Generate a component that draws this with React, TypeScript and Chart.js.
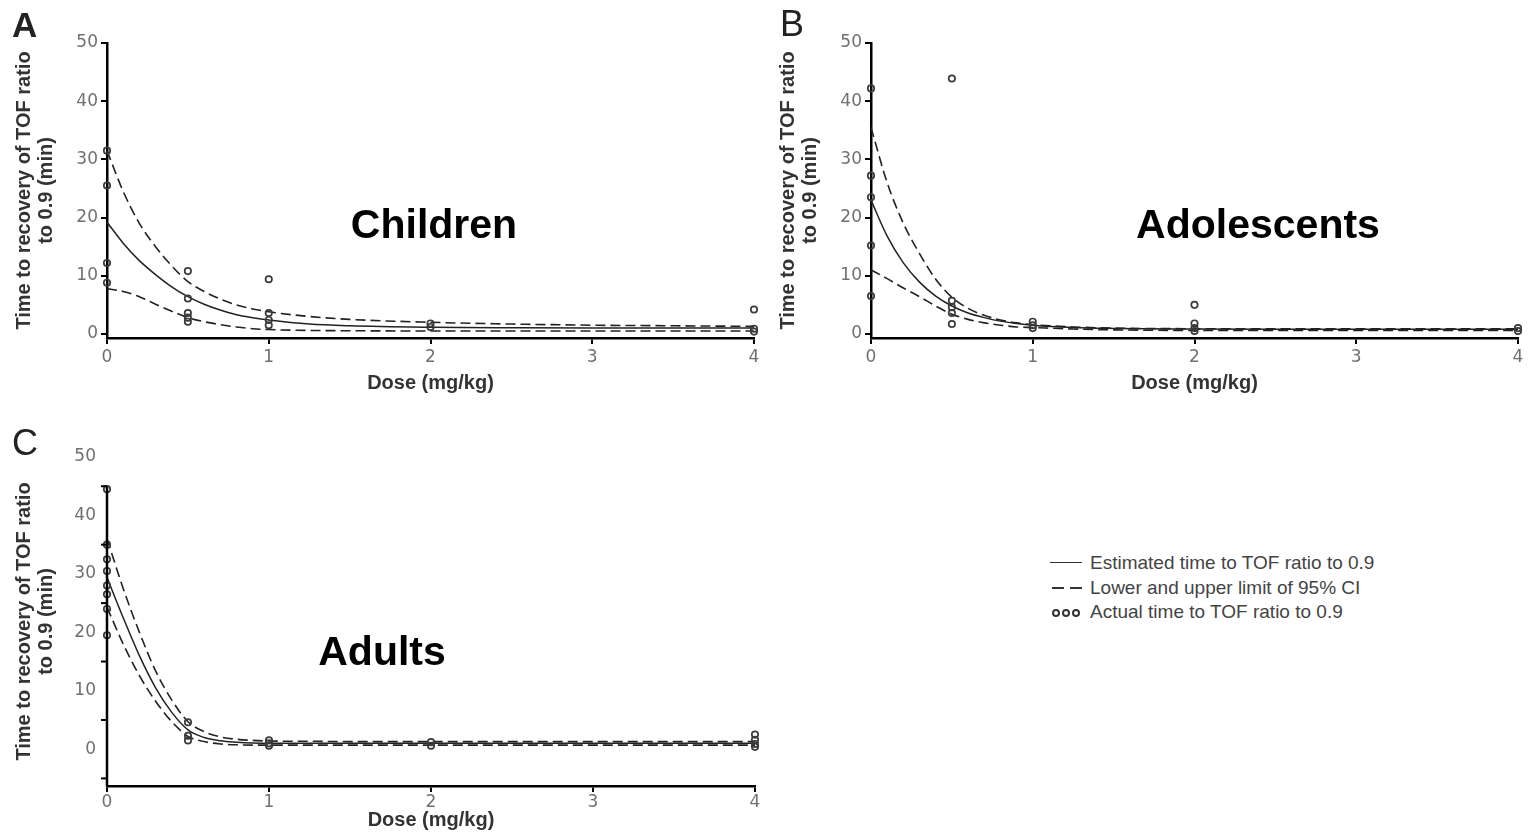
import React, { useEffect, useRef } from 'react';
import { Chart, registerables } from 'chart.js';

Chart.register(...registerables);

// ---------------- data ----------------
const doseGrid = [0, 0.1, 0.2, 0.3, 0.4, 0.5, 0.6, 0.7, 0.8, 0.9, 1, 1.25, 1.5, 2, 2.5, 3, 3.5, 4];
const xTickValues = [0, 1, 2, 3, 4];
const yTickValues = [0, 10, 20, 30, 40, 50];
const adultAxisMarks = [-5, 5, 15, 25, 35, 45];

// Children
const childrenEstimate = [19.2, 15.6, 12.6, 10.2, 8.1, 6.4, 5.1, 4.1, 3.3, 2.8, 2.4, 1.7, 1.4, 1.15, 1.05, 1.0, 1.0, 1.0];
const childrenUpper = [31.5, 24.5, 19.0, 15.0, 11.7, 9.0, 7.3, 6.0, 5.0, 4.3, 3.8, 3.0, 2.5, 2.0, 1.7, 1.5, 1.4, 1.3];
const childrenLower = [7.8, 7.3, 6.4, 5.1, 3.9, 2.8, 2.1, 1.6, 1.2, 0.9, 0.75, 0.6, 0.55, 0.5, 0.5, 0.5, 0.5, 0.5];
const childrenDose = [0, 0, 0, 0, 0.5, 0.5, 0.5, 0.5, 0.5, 1, 1, 1, 1, 2, 2, 4, 4, 4];
const childrenTime = [31.5, 25.5, 12.2, 8.8, 10.8, 6.1, 3.6, 2.8, 2.1, 9.4, 3.6, 2.4, 1.5, 1.8, 1.2, 4.2, 0.9, 0.4];

// Adolescents
const adolEstimate = [23.0, 16.8, 12.2, 8.9, 6.5, 4.8, 3.6, 2.8, 2.2, 1.8, 1.5, 1.1, 0.95, 0.85, 0.8, 0.8, 0.8, 0.8];
const adolUpper = [35.5, 26.0, 19.0, 13.8, 9.4, 6.3, 4.4, 3.2, 2.4, 1.9, 1.6, 1.2, 1.0, 0.9, 0.9, 0.9, 0.9, 0.9];
const adolLower = [11.0, 9.5, 7.9, 6.4, 4.8, 3.4, 2.5, 1.9, 1.5, 1.2, 1.1, 0.85, 0.7, 0.6, 0.6, 0.6, 0.6, 0.6];
const adolDose = [0, 0, 0, 0, 0, 0.5, 0.5, 0.5, 0.5, 0.5, 1, 1, 1, 2, 2, 2, 2, 4, 4];
const adolTime = [42.2, 27.2, 23.5, 15.2, 6.5, 43.9, 5.7, 4.6, 3.6, 1.7, 2.1, 1.5, 1.0, 5.0, 1.8, 1.0, 0.5, 1.0, 0.5];

// Adults
const adultEstimate = [29.4, 22.5, 16.0, 10.5, 6.3, 3.3, 2.0, 1.45, 1.2, 1.05, 1.0, 1.0, 1.0, 1.0, 1.0, 1.0, 1.0, 1.0];
const adultUpper = [36.0, 27.5, 20.0, 13.4, 8.4, 4.7, 3.0, 2.1, 1.7, 1.5, 1.4, 1.35, 1.3, 1.3, 1.3, 1.3, 1.3, 1.3];
const adultLower = [24.3, 18.0, 12.6, 8.2, 4.7, 2.2, 1.3, 0.9, 0.75, 0.7, 0.7, 0.7, 0.7, 0.7, 0.7, 0.7, 0.7, 0.7];
const adultDose = [0, 0, 0, 0, 0, 0, 0, 0, 0.5, 0.5, 0.5, 1, 1, 1, 2, 2, 4, 4, 4, 4];
const adultTime = [44.5, 35.0, 32.5, 30.5, 28.0, 26.5, 24.0, 19.5, 4.6, 2.3, 1.5, 1.5, 1.0, 0.6, 1.2, 0.6, 2.5, 1.6, 0.9, 0.4];

const legendLabels = [
  'Estimated time to TOF ratio to 0.9',
  'Lower and upper limit of 95% CI',
  'Actual time to TOF ratio to 0.9',
];

// ---------------- styling ----------------
const SANS = '"Liberation Sans", Arial, Helvetica, sans-serif';
const TICK_FONT = { family: '"DejaVu Sans", sans-serif', size: 17 };
const TICK_COLOR = '#707070';
const TITLE_COLOR = '#333';

const overlayPlugin = {
  id: 'overlayText',
  afterDraw(chart: any, _args: any, opts: any) {
    if (!opts || !opts.items) return;
    const ctx = chart.ctx;
    ctx.save();
    for (const it of opts.items) {
      ctx.font = it.font;
      ctx.fillStyle = it.color;
      ctx.textAlign = it.align || 'left';
      ctx.textBaseline = 'alphabetic';
      ctx.fillText(it.text, it.x, it.y);
    }
    ctx.restore();
  },
};

const customAxisPlugin = {
  id: 'customAxis',
  afterDatasetsDraw(chart: any, _args: any, opts: any) {
    if (!opts || !opts.marks) return;
    const ctx = chart.ctx;
    const ys = chart.scales.y;
    const area = chart.chartArea;
    ctx.save();
    ctx.strokeStyle = '#000';
    ctx.lineWidth = 2.5;
    ctx.beginPath();
    ctx.moveTo(area.left, ys.getPixelForValue(opts.top));
    ctx.lineTo(area.left, area.bottom);
    ctx.stroke();
    ctx.lineWidth = 2;
    for (const v of opts.marks) {
      const py = ys.getPixelForValue(v);
      ctx.beginPath();
      ctx.moveTo(area.left - 6, py);
      ctx.lineTo(area.left, py);
      ctx.stroke();
    }
    ctx.restore();
  },
};

type PanelSpec = {
  width: number;
  height: number;
  padTop: number;
  padRight: number;
  xHeight: number;
  titleBottomPad: number;
  xTickPad: number;
  yMin: number;
  custom: boolean;
  est: number[];
  upper: number[];
  lower: number[];
  dose: number[];
  time: number[];
  overlay: any[];
};

function buildConfig(p: PanelSpec): any {
  const line = (vals: number[], dashed: boolean) => ({
    data: doseGrid.map((d, i) => ({ x: d, y: vals[i] })),
    showLine: true,
    borderColor: '#222',
    borderWidth: dashed ? 1.6 : 1.5,
    borderDash: dashed ? [10, 5] : [],
    pointRadius: 0,
    cubicInterpolationMode: 'monotone',
    clip: false,
  });
  return {
    type: 'scatter',
    data: {
      datasets: [
        {
          data: p.dose.map((d, i) => ({ x: d, y: p.time[i] })),
          showLine: false,
          pointRadius: 3.2,
          pointBorderWidth: 1.7,
          pointBorderColor: '#3a3a3a',
          pointBackgroundColor: 'rgba(255,255,255,0)',
          clip: false,
        },
        line(p.est, false),
        line(p.upper, true),
        line(p.lower, true),
      ],
    },
    options: {
      animation: false,
      responsive: false,
      events: [],
      layout: { padding: { left: 0, top: p.padTop, right: p.padRight, bottom: 0 } },
      plugins: {
        legend: { display: false },
        tooltip: { enabled: false },
        overlayText: { items: p.overlay },
        customAxis: p.custom ? { marks: adultAxisMarks, top: 45 } : {},
      },
      scales: {
        x: {
          type: 'linear',
          min: 0,
          max: 4,
          afterBuildTicks: (s: any) => {
            s.ticks = xTickValues.map((v) => ({ value: v }));
          },
          afterFit: (s: any) => {
            s.height = p.xHeight;
          },
          ticks: { font: TICK_FONT, color: TICK_COLOR, padding: p.xTickPad },
          grid: { display: true, drawOnChartArea: false, drawTicks: true, tickLength: 6, color: '#000', lineWidth: 2 },
          border: { display: true, color: '#000', width: 2.5 },
          title: {
            display: true,
            text: 'Dose (mg/kg)',
            color: TITLE_COLOR,
            font: { family: SANS, size: 20, weight: 'bold', lineHeight: 1.2 },
            padding: { top: 0, bottom: p.titleBottomPad },
          },
        },
        y: {
          type: 'linear',
          min: p.yMin,
          max: 50,
          afterBuildTicks: (s: any) => {
            s.ticks = yTickValues.map((v) => ({ value: v }));
          },
          afterFit: (s: any) => {
            s.width = 107;
          },
          ticks: { font: TICK_FONT, color: TICK_COLOR, padding: p.custom ? 11 : 3 },
          grid: p.custom
            ? { display: false, drawTicks: false }
            : { display: true, drawOnChartArea: false, drawTicks: true, tickLength: 6, color: '#000', lineWidth: 2 },
          border: { display: !p.custom, color: '#000', width: 2.5 },
          title: {
            display: true,
            text: ['Time to recovery of TOF ratio', 'to 0.9 (min)'],
            color: TITLE_COLOR,
            font: { family: SANS, size: 20, weight: 'bold', lineHeight: 22 / 20 },
            padding: { top: 13, bottom: 0 },
          },
        },
      },
    },
    plugins: [overlayPlugin, customAxisPlugin],
  };
}

function Panel({ left, top, spec }: { left: number; top: number; spec: PanelSpec }) {
  const ref = useRef<HTMLCanvasElement | null>(null);
  useEffect(() => {
    if (!ref.current) return;
    const chart = new Chart(ref.current, buildConfig(spec));
    return () => chart.destroy();
  }, []);
  return (
    <div style={{ position: 'absolute', left, top, width: spec.width, height: spec.height }}>
      <canvas ref={ref} width={spec.width} height={spec.height} style={{ width: spec.width, height: spec.height, display: 'block' }} />
    </div>
  );
}

const panelA: PanelSpec = {
  width: 790, height: 400, padTop: 43, padRight: 36, xHeight: 62, titleBottomPad: 5, xTickPad: 3,
  yMin: -0.7, custom: false,
  est: childrenEstimate, upper: childrenUpper, lower: childrenLower, dose: childrenDose, time: childrenTime,
  overlay: [
    { text: 'A', x: 12, y: 37, font: `bold 35px ${SANS}`, color: '#222' },
    { text: 'Children', x: 434, y: 238, font: `bold 41px ${SANS}`, color: '#000', align: 'center' },
  ],
};

const panelB: PanelSpec = {
  width: 764, height: 400, padTop: 43, padRight: 10, xHeight: 62, titleBottomPad: 5, xTickPad: 3,
  yMin: -0.7, custom: false,
  est: adolEstimate, upper: adolUpper, lower: adolLower, dose: adolDose, time: adolTime,
  overlay: [
    { text: 'B', x: 16, y: 36, font: `36px ${SANS}`, color: '#222' },
    { text: 'Adolescents', x: 494, y: 238, font: `bold 41px ${SANS}`, color: '#000', align: 'center' },
  ],
};

const panelC: PanelSpec = {
  width: 790, height: 419, padTop: 43, padRight: 35, xHeight: 47, titleBottomPad: 1, xTickPad: 0,
  yMin: -6.3, custom: true,
  est: adultEstimate, upper: adultUpper, lower: adultLower, dose: adultDose, time: adultTime,
  overlay: [
    { text: 'C', x: 12, y: 41, font: `36px ${SANS}`, color: '#222' },
    { text: 'Adults', x: 382, y: 251, font: `bold 41px ${SANS}`, color: '#000', align: 'center' },
  ],
};

function Legend() {
  const rowY = [563, 588, 612];
  const text: React.CSSProperties = {
    position: 'absolute', left: 1090, fontFamily: SANS, fontSize: 19, color: '#444',
    lineHeight: '24px', whiteSpace: 'nowrap',
  };
  return (
    <>
      <div style={{ position: 'absolute', left: 1050, top: rowY[0] - 1, width: 32, height: 0, borderTop: '1.6px solid #333' }} />
      <div style={{ position: 'absolute', left: 1052, top: rowY[1] - 1, width: 12, height: 0, borderTop: '2px solid #333' }} />
      <div style={{ position: 'absolute', left: 1070, top: rowY[1] - 1, width: 12, height: 0, borderTop: '2px solid #333' }} />
      {[1052, 1062, 1072].map((x) => (
        <div key={x} style={{ position: 'absolute', left: x, top: rowY[2] - 3, width: 4, height: 4, borderRadius: '50%', border: '2px solid #333', boxSizing: 'content-box' }} />
      ))}
      {legendLabels.map((t, i) => (
        <div key={t} style={{ ...text, top: rowY[i] - 12 }}>{t}</div>
      ))}
    </>
  );
}

export default function App() {
  return (
    <div style={{ position: 'absolute', left: 0, top: 0, width: 1528, height: 833, overflow: 'hidden', background: '#fff' }}>
      <Panel left={0} top={0} spec={panelA} />
      <Panel left={764} top={0} spec={panelB} />
      <Panel left={0} top={414} spec={panelC} />
      <Legend />
    </div>
  );
}
